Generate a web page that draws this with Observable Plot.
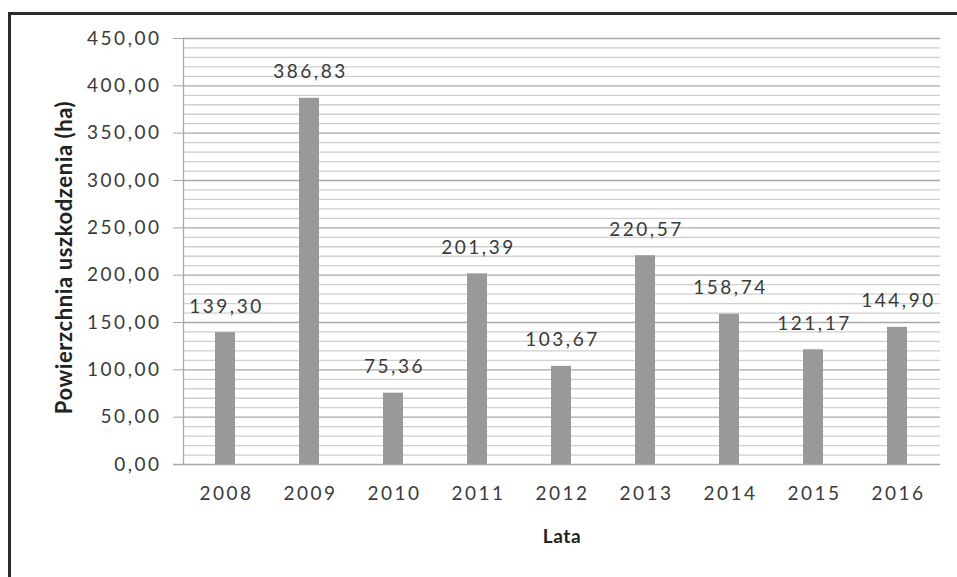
<!DOCTYPE html>
<html>
<head>
<meta charset="utf-8">
<script src="https://cdn.jsdelivr.net/npm/d3@7"></script>
<script src="https://cdn.jsdelivr.net/npm/@observablehq/plot@0.6"></script>
<style>
  html, body { margin: 0; padding: 0; background: #fff; }
  #wrap { position: relative; width: 957px; height: 577px; overflow: hidden; }
  #frame { position: absolute; left: 8px; top: 12px; width: 1000px; height: 700px; border: 3px solid #2a2a2a; box-sizing: border-box; }
  #chart { position: absolute; left: 0; top: 0; }
  svg text { font-family: Lato, "Open Sans", sans-serif; }
  svg g[aria-label$="tick label"] text, svg g[aria-label="text"] text { letter-spacing: 2.5px; }
</style>
</head>
<body>
<div id="wrap"><div id="frame"></div><div id="chart"></div></div>
<script>
const years = ["2008","2009","2010","2011","2012","2013","2014","2015","2016"];
const values = [139.30, 386.83, 75.36, 201.39, 103.67, 220.57, 158.74, 121.17, 144.90];
const yTicks = [0, 50, 100, 150, 200, 250, 300, 350, 400, 450];
const minorStep = 10;
const xTitle = "Lata";
const yTitle = "Powierzchnia uszkodzenia (ha)";

const fmt = v => v.toFixed(2).replace(".", ",");
const data = years.map((y, i) => ({year: y, value: values[i]}));
const minor = d3.range(0, 451, minorStep).filter(v => v % 50 !== 0);

const plot = Plot.plot({
  width: 957,
  height: 577,
  marginLeft: 183,
  marginRight: 17,
  marginTop: 38,
  marginBottom: 113,
  style: {background: "transparent", color: "#333", fontSize: "19px"},
  x: {domain: years, paddingInner: 0.76, paddingOuter: 0.38, align: 0.5, label: null},
  y: {domain: [0, 450], label: null},
  marks: [
    Plot.ruleY(minor, {stroke: "#cfcfcf", strokeWidth: 1.3}),
    Plot.ruleY(yTicks.filter(v => v > 0), {stroke: "#a8a8a8", strokeWidth: 1.3}),
    Plot.axisY({ticks: yTicks, tickFormat: fmt, tickSize: 10, tickPadding: 12, stroke: "#a8a8a8", label: null, fontSize: 19, fill: "#3a3a3a"}),
    Plot.axisX({tickSize: 0, tickPadding: 22, label: null, fontSize: 19, fill: "#3a3a3a", dx: 1}),
    Plot.barY(data, {x: "year", y: "value", fill: "#999999"}),
    Plot.frame({anchor: "left", stroke: "#a8a8a8", strokeWidth: 1.3}),
    Plot.ruleY([0], {stroke: "#a8a8a8", strokeWidth: 1.5, insetLeft: -10}),
    Plot.text(data, {x: "year", y: "value", text: d => fmt(d.value), dy: -26, dx: 1, fontSize: 19, fill: "#3a3a3a"}),
    Plot.text([xTitle], {frameAnchor: "bottom", dy: 78, text: d => d, fontSize: 19, fontWeight: "bold", fill: "#222"}),
    Plot.text([yTitle], {frameAnchor: "left", dx: -119, dy: 6, rotate: -90, textAnchor: "middle", text: d => d, fontSize: 22, fontWeight: "bold", fill: "#222"})
  ]
});
d3.select(plot).selectAll("text")
  .filter(function() { return this.textContent === xTitle || this.textContent === yTitle; })
  .style("letter-spacing", "0.6px");
document.getElementById("chart").appendChild(plot);
</script>
</body>
</html>
